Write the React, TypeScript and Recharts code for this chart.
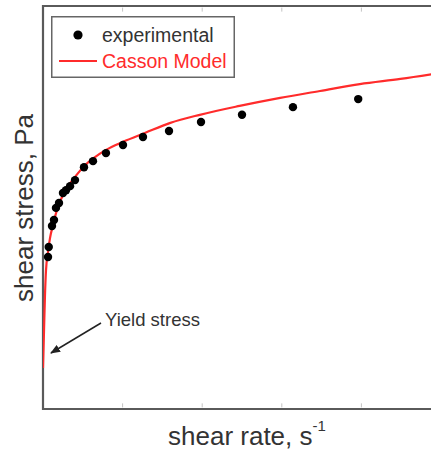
import React from "react";
import { ComposedChart, Line, Scatter, XAxis, YAxis, ReferenceArea, ReferenceLine } from "recharts";

// experimental points (shear rate, shear stress) – arbitrary units
const shearRate = [6.3, 7.2, 11.3, 13.8, 16.3, 20.1, 25.1, 28.9, 34.0, 40.2, 51.5, 62.8, 79.1, 100.5, 125.6, 158.3, 198.5, 250, 314, 396];
const shearStress = [37.7, 40.2, 45.4, 46.9, 49.9, 51.1, 53.6, 54.3, 55.3, 56.8, 60.0, 61.5, 63.5, 65.5, 67.5, 69.0, 71.2, 73.0, 74.9, 76.9];

// Casson model curve
const modelRate = [0, 1.3, 2.5, 3.8, 6.3, 8.8, 12.6, 17.6, 23.9, 31.4, 40.2, 52.8, 65.3, 79.1, 100.5, 128, 160, 197, 247, 298, 348, 398, 449, 500];
const modelStress = [10.2, 19.6, 28.3, 34.5, 39.0, 42.4, 45.7, 49.4, 52.6, 55.3, 57.6, 60.5, 62.5, 64.3, 66.3, 68.5, 71.0, 73.0, 75.2, 77.2, 78.9, 80.6, 81.9, 83.4];

const xTicks = [100, 200, 300, 400];

const expData = shearRate.map((x, i) => ({ x, y: shearStress[i] }));
const modelData = modelRate.map((x, i) => ({ x, y: modelStress[i] }));

const FONT = "'Liberation Sans', Arial, Helvetica, sans-serif";
const RED = "#ff2b2b";
const FRAME = "#5a5a5a";

const Dot = (props: any) => <circle cx={props.cx} cy={props.cy} r={4.2} fill="#000" />;

export default function App() {
  return (
    <div style={{ position: "absolute", left: 0, top: 0, width: 431, height: 450, overflow: "hidden", background: "#fff" }}>
      <ComposedChart width={450} height={450} margin={{ top: 6, right: 9, bottom: 41, left: 43 }}>
        <XAxis type="number" dataKey="x" domain={[0, 500]} allowDataOverflow height={0} hide />
        <YAxis type="number" dataKey="y" domain={[0, 100]} allowDataOverflow width={0} hide />
        <ReferenceArea x1={0} x2={500} y1={0} y2={100} fill="none" stroke={FRAME} strokeWidth={2.2} ifOverflow="visible" />
        {xTicks.map((t) => (
          <ReferenceLine key={"b" + t} segment={[{ x: t, y: 0.4 }, { x: t, y: 1.4 }]} stroke="#c4c4c4" strokeWidth={1} ifOverflow="visible" />
        ))}
        {xTicks.map((t) => (
          <ReferenceLine key={"t" + t} segment={[{ x: t, y: 98.6 }, { x: t, y: 99.6 }]} stroke="#c4c4c4" strokeWidth={1} ifOverflow="visible" />
        ))}
        <Line
          data={modelData}
          dataKey="y"
          type="monotone"
          stroke={RED}
          strokeWidth={2.2}
          dot={false}
          isAnimationActive={false}
        />
        <Scatter data={expData} dataKey="y" shape={<Dot />} isAnimationActive={false} />
      </ComposedChart>
      <svg width={431} height={450} style={{ position: "absolute", left: 0, top: 0, pointerEvents: "none" }}>
        <defs>
          <marker id="arrowhead" markerWidth="10" markerHeight="8" refX="9" refY="4" orient="auto" markerUnits="userSpaceOnUse">
            <polygon points="0,0 10,4 0,8" fill="#222" />
          </marker>
        </defs>
        <g>
          <rect x={51.75} y={16.75} width={182.5} height={60.5} fill="#fff" stroke="#666" strokeWidth={1.5} />
          <circle cx={78} cy={35} r={4.6} fill="#000" />
          <line x1={59} x2={97} y1={61} y2={61} stroke={RED} strokeWidth={2} />
          <text x={102} y={42} fill="#333" fontFamily={FONT} fontSize={19.5}>experimental</text>
          <text x={102} y={68} fill={RED} fontFamily={FONT} fontSize={19.5}>Casson Model</text>
        </g>
        <line x1={101} y1={323} x2={51} y2={353} stroke="#222" strokeWidth={1.5} markerEnd="url(#arrowhead)" />
        <text x={105} y={326} fill="#333" fontFamily={FONT} fontSize={18.5}>Yield stress</text>
        <text transform="translate(33,208) rotate(-90)" textAnchor="middle" fill="#333" fontFamily={FONT} fontSize={26}>
          shear stress, Pa
        </text>
        <text x={168} y={445} fill="#333" fontFamily={FONT} fontSize={26}>
          shear rate, s
          <tspan dy={-14} fontSize={15}>-1</tspan>
        </text>
      </svg>
    </div>
  );
}
